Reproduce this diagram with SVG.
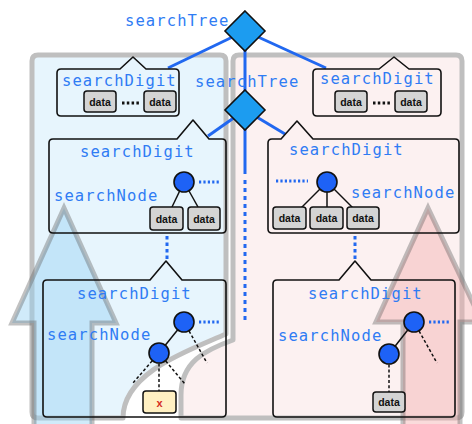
<svg xmlns="http://www.w3.org/2000/svg" width="472" height="424" viewBox="0 0 472 424">
  <defs>
    <style>
      .lbl { font-family: "DejaVu Sans Mono", "Liberation Mono", monospace; font-size: 15.5px; letter-spacing: 1.1px; fill: #2f7cf4; }
      .dtxt { font-family: "Liberation Sans", Arial, sans-serif; font-size: 10.5px; font-weight: bold; fill: #111; text-anchor: middle; }
      .xtxt { font-family: "Liberation Sans", Arial, sans-serif; font-size: 11px; font-weight: bold; fill: #d42a1e; text-anchor: middle; }
      .region { stroke: #bfbfbf; stroke-width: 5; stroke-linejoin: round; }
      .arrow { stroke: rgba(100,100,100,0.4); stroke-width: 5; stroke-linejoin: miter; }
      .box { fill: none; stroke: #111; stroke-width: 1.6; stroke-linejoin: round; }
      .data { fill: #d4d4d4; stroke: #111; stroke-width: 1.5; }
      .xbox { fill: #fff0c2; stroke: #111; stroke-width: 1.5; }
      .node { fill: #1e62f6; stroke: #111; stroke-width: 1.6; }
      .diamond { fill: #1c9cf0; stroke: #111; stroke-width: 1.6; stroke-linejoin: miter; }
      .link { stroke: #2168f0; stroke-width: 3; fill: none; }
      .dots { stroke: #2168f0; stroke-width: 3; stroke-dasharray: 2.2 2.2; fill: none; }
      .vdots { stroke: #2168f0; stroke-width: 3; stroke-dasharray: 4 4; fill: none; }
      .edge { stroke: #111; stroke-width: 1.5; fill: none; }
      .dash { stroke: #111; stroke-width: 1.5; stroke-dasharray: 3 2.2; fill: none; }
      .ellipsis { stroke: #111; stroke-width: 3; stroke-dasharray: 2.5 2.3; fill: none; }
    </style>
  </defs>

  <!-- two background regions -->
  <g id="regions">
    <path class="region" fill="#e7f5fd" d="M38,55 H220 Q226,55 226,61 V334 C190,350 123,372 123,418 H38 Q32,418 32,412 V61 Q32,55 38,55 Z"/>
    <path class="region" fill="#fcf1f1" d="M239,55 H456 Q462,55 462,61 V412 Q462,418 456,418 H181 V395 C181,362 205,350 233,340 V61 Q233,55 239,55 Z"/>
  </g>

  <!-- large translucent arrows -->
  <g id="arrows">
    <polygon class="arrow" fill="rgba(150,210,245,0.45)" points="64,208 116,323 92,323 92,440 34,440 34,323 12,323"/>
    <polygon class="arrow" fill="rgba(245,175,175,0.45)" points="428,208 482,322 460,322 460,440 403,440 403,322 376,322"/>
  </g>

  <!-- connectors -->
  <g id="connectors">
    <line class="link" x1="245" y1="31" x2="168" y2="68"/>
    <line class="link" x1="245" y1="31" x2="326" y2="68"/>
    <line class="link" x1="245" y1="31" x2="245" y2="110"/>
    <line class="link" x1="245" y1="110" x2="208" y2="136"/>
    <line class="link" x1="245" y1="110" x2="285" y2="134"/>
    <line class="link" x1="245" y1="110" x2="245" y2="174"/>
    <line class="vdots" x1="245" y1="180" x2="245" y2="320"/>
    <line class="vdots" x1="167" y1="236" x2="167" y2="260" style="stroke-dasharray:3.5 3"/>
    <line class="vdots" x1="355" y1="236" x2="355" y2="260" style="stroke-dasharray:3.5 3"/>
  </g>

  <!-- root diamonds -->
  <g id="searchTree-root">
    <polygon class="diamond" points="245,11 265,31 245,51 225,31"/>
    <text class="lbl" x="125" y="26">searchTree</text>
  </g>
  <g id="searchTree-sub">
    <polygon class="diamond" points="245,90 265,110 245,130 225,110"/>
    <text class="lbl" x="195" y="87">searchTree</text>
  </g>

  <!-- top-left digit -->
  <g id="digit-top-left">
    <path class="box" d="M61,69 H120 L133,57 L146,69 H175 Q179,69 179,73 V112 Q179,116 175,116 H61 Q57,116 57,112 V73 Q57,69 61,69 Z"/>
    <text class="lbl" x="62" y="86">searchDigit</text>
    <rect class="data" x="84" y="91" width="32" height="21" rx="3"/>
    <text class="dtxt" x="100" y="105.5">data</text>
    <line class="ellipsis" x1="122" y1="103" x2="140" y2="103"/>
    <rect class="data" x="144" y="91" width="32" height="21" rx="3"/>
    <text class="dtxt" x="160" y="105.5">data</text>
  </g>

  <!-- top-right digit -->
  <g id="digit-top-right">
    <path class="box" d="M317,69 H379 L394,57 L409,69 H437 Q441,69 441,73 V112 Q441,116 437,116 H317 Q313,116 313,112 V73 Q313,69 317,69 Z"/>
    <text class="lbl" x="320" y="84">searchDigit</text>
    <rect class="data" x="335" y="91" width="32" height="21" rx="3"/>
    <text class="dtxt" x="351" y="105.5">data</text>
    <line class="ellipsis" x1="373" y1="103" x2="391" y2="103"/>
    <rect class="data" x="395" y="91" width="32" height="21" rx="3"/>
    <text class="dtxt" x="411" y="105.5">data</text>
  </g>

  <!-- middle-left digit -->
  <g id="digit-mid-left">
    <path class="box" d="M53,139 H177 L193,120 L209,139 H222 Q226,139 226,143 V229 Q226,233 222,233 H53 Q49,233 49,229 V143 Q49,139 53,139 Z"/>
    <text class="lbl" x="80" y="157">searchDigit</text>
    <text class="lbl" x="54" y="201">searchNode</text>
    <line class="dots" x1="199" y1="182" x2="221" y2="182"/>
    <line class="edge" x1="184" y1="182" x2="172" y2="207"/>
    <line class="edge" x1="184" y1="182" x2="198" y2="207"/>
    <circle class="node" cx="184" cy="182" r="10"/>
    <rect class="data" x="150" y="207" width="33" height="23" rx="3"/>
    <text class="dtxt" x="166.5" y="222.5">data</text>
    <rect class="data" x="188" y="207" width="32" height="23" rx="3"/>
    <text class="dtxt" x="204" y="222.5">data</text>
  </g>

  <!-- middle-right digit -->
  <g id="digit-mid-right">
    <path class="box" d="M272,139 H281 L297,121 L313,139 H455 Q459,139 459,143 V229 Q459,233 455,233 H272 Q268,233 268,229 V143 Q268,139 272,139 Z"/>
    <text class="lbl" x="289" y="155">searchDigit</text>
    <text class="lbl" x="351" y="198">searchNode</text>
    <line class="dots" x1="276" y1="181" x2="308" y2="181"/>
    <line class="edge" x1="327" y1="182" x2="301" y2="208"/>
    <line class="edge" x1="327" y1="182" x2="327" y2="208"/>
    <line class="edge" x1="327" y1="182" x2="353" y2="208"/>
    <circle class="node" cx="327" cy="182" r="10"/>
    <rect class="data" x="273" y="207" width="33" height="22" rx="3"/>
    <text class="dtxt" x="289.5" y="222">data</text>
    <rect class="data" x="310" y="207" width="33" height="22" rx="3"/>
    <text class="dtxt" x="326.5" y="222">data</text>
    <rect class="data" x="347" y="207" width="32" height="22" rx="3"/>
    <text class="dtxt" x="363" y="222">data</text>
  </g>

  <!-- lower-left digit -->
  <g id="digit-low-left">
    <path class="box" d="M47,280 H150 L166,261 L182,280 H222 Q226,280 226,284 V413 Q226,417 222,417 H47 Q43,417 43,413 V284 Q43,280 47,280 Z"/>
    <text class="lbl" x="77" y="299">searchDigit</text>
    <text class="lbl" x="47" y="340">searchNode</text>
    <line class="dots" x1="199" y1="322" x2="221" y2="322"/>
    <line class="dash" x1="184" y1="322" x2="207" y2="363"/>
    <line class="dash" x1="159" y1="353" x2="133" y2="383"/>
    <line class="dash" x1="159" y1="353" x2="159" y2="391"/>
    <line class="dash" x1="159" y1="353" x2="185" y2="384"/>
    <line class="edge" x1="184" y1="322" x2="159" y2="353"/>
    <circle class="node" cx="184" cy="322" r="10"/>
    <circle class="node" cx="159" cy="353" r="10"/>
    <rect class="xbox" x="143" y="391" width="33" height="22" rx="3"/>
    <text class="xtxt" x="159.5" y="406.5">x</text>
  </g>

  <!-- lower-right digit -->
  <g id="digit-low-right">
    <path class="box" d="M277,280 H339 L355,261 L371,280 H451 Q455,280 455,284 V413 Q455,417 451,417 H277 Q273,417 273,413 V284 Q273,280 277,280 Z"/>
    <text class="lbl" x="308" y="299">searchDigit</text>
    <text class="lbl" x="278" y="341">searchNode</text>
    <line class="dots" x1="429" y1="322" x2="450" y2="322"/>
    <line class="dash" x1="414" y1="322" x2="437" y2="363"/>
    <line class="dash" x1="389" y1="354" x2="389" y2="392"/>
    <line class="edge" x1="414" y1="322" x2="389" y2="354"/>
    <circle class="node" cx="414" cy="322" r="10"/>
    <circle class="node" cx="389" cy="354" r="10"/>
    <rect class="data" x="373" y="392" width="32" height="20" rx="3"/>
    <text class="dtxt" x="389" y="406">data</text>
  </g>
</svg>
